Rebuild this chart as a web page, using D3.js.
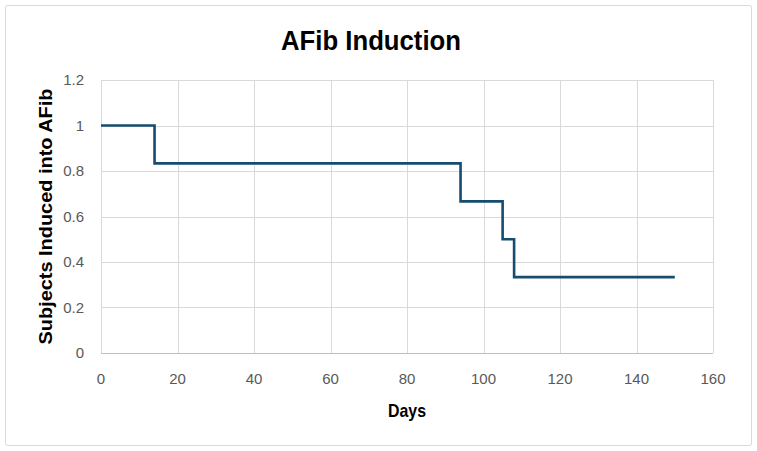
<!DOCTYPE html>
<html>
<head>
<meta charset="utf-8">
<script src="https://cdn.jsdelivr.net/npm/d3@7"></script>
<style>
  body { margin: 0; background: #fff; }
  text { font-family: "Liberation Sans", Arial, sans-serif; }
</style>
</head>
<body>
<div class="chart"></div>
<script>
// step survival-style data
const days = [0, 14, 94, 105, 108, 150]
const induced = [1, 0.8333, 0.6667, 0.5, 0.3333, 0.3333]
const xTicks = [0, 20, 40, 60, 80, 100, 120, 140, 160]
const yTicks = [0, 0.2, 0.4, 0.6, 0.8, 1, 1.2]

const width = 757,
    height = 451,
    margin = {top: 80, right: 44, bottom: 98, left: 101}

const svg = d3.select(".chart")
    .append("svg")
    .attr("width", width)
    .attr("height", height)

svg.append("rect")
    .attr("x", 5.5).attr("y", 5.5)
    .attr("width", width - 11).attr("height", height - 11)
    .attr("rx", 2)
    .attr("fill", "#fff")
    .attr("stroke", "#d9d9d9")

const x = d3.scaleLinear().domain([0, 160]).range([margin.left, width - margin.right])
const y = d3.scaleLinear().domain([0, 1.2]).range([height - margin.bottom, margin.top])

// gridlines
svg.append("g")
    .selectAll("line")
    .data(yTicks.slice(1))
    .join("line")
    .attr("x1", x(0)).attr("x2", x(160))
    .attr("y1", d => Math.round(y(d)) + 0.5).attr("y2", d => Math.round(y(d)) + 0.5)
    .attr("stroke", "#d9d9d9")

svg.append("g")
    .selectAll("line")
    .data(xTicks)
    .join("line")
    .attr("x1", d => Math.round(x(d)) + 0.5).attr("x2", d => Math.round(x(d)) + 0.5)
    .attr("y1", y(0)).attr("y2", y(1.2))
    .attr("stroke", "#d9d9d9")

// x axis line
svg.append("line")
    .attr("x1", x(0)).attr("x2", x(160))
    .attr("y1", Math.round(y(0)) + 0.5).attr("y2", Math.round(y(0)) + 0.5)
    .attr("stroke", "#bfbfbf")

// tick labels
svg.append("g")
    .selectAll("text")
    .data(yTicks)
    .join("text")
    .attr("x", x(0) - 17)
    .attr("y", d => y(d))
    .attr("dy", "0.35em")
    .attr("text-anchor", "end")
    .style("font-size", "15px")
    .style("fill", "#595959")
    .text(d => d3.format("~g")(d))

svg.append("g")
    .selectAll("text")
    .data(xTicks)
    .join("text")
    .attr("x", d => x(d))
    .attr("y", y(0) + 31)
    .attr("text-anchor", "middle")
    .style("font-size", "15px")
    .style("fill", "#595959")
    .text(d => d)

// the step line
const line = d3.line()
    .x(d => x(d))
    .y((d, i) => y(induced[i]))
    .curve(d3.curveStepAfter)

svg.append("path")
    .datum(days)
    .attr("d", line)
    .attr("fill", "none")
    .attr("stroke", "#164c70")
    .attr("stroke-width", 2.6)

// titles (condensed to match the narrow font of the original)
svg.append("text")
    .attr("x", 371)
    .attr("y", 50)
    .attr("text-anchor", "middle")
    .attr("textLength", 180)
    .attr("lengthAdjust", "spacingAndGlyphs")
    .style("font-size", "27px")
    .style("font-weight", "bold")
    .style("fill", "#000")
    .text("AFib Induction")

svg.append("text")
    .attr("x", 407)
    .attr("y", 417)
    .attr("text-anchor", "middle")
    .attr("textLength", 38)
    .attr("lengthAdjust", "spacingAndGlyphs")
    .style("font-size", "19px")
    .style("font-weight", "bold")
    .text("Days")

svg.append("text")
    .attr("transform", `translate(52,${(y(0) + y(1.2)) / 2}) rotate(-90)`)
    .attr("text-anchor", "middle")
    .attr("textLength", 256)
    .attr("lengthAdjust", "spacingAndGlyphs")
    .style("font-size", "18px")
    .style("font-weight", "bold")
    .text("Subjects Induced into AFib")
</script>
</body>
</html>
